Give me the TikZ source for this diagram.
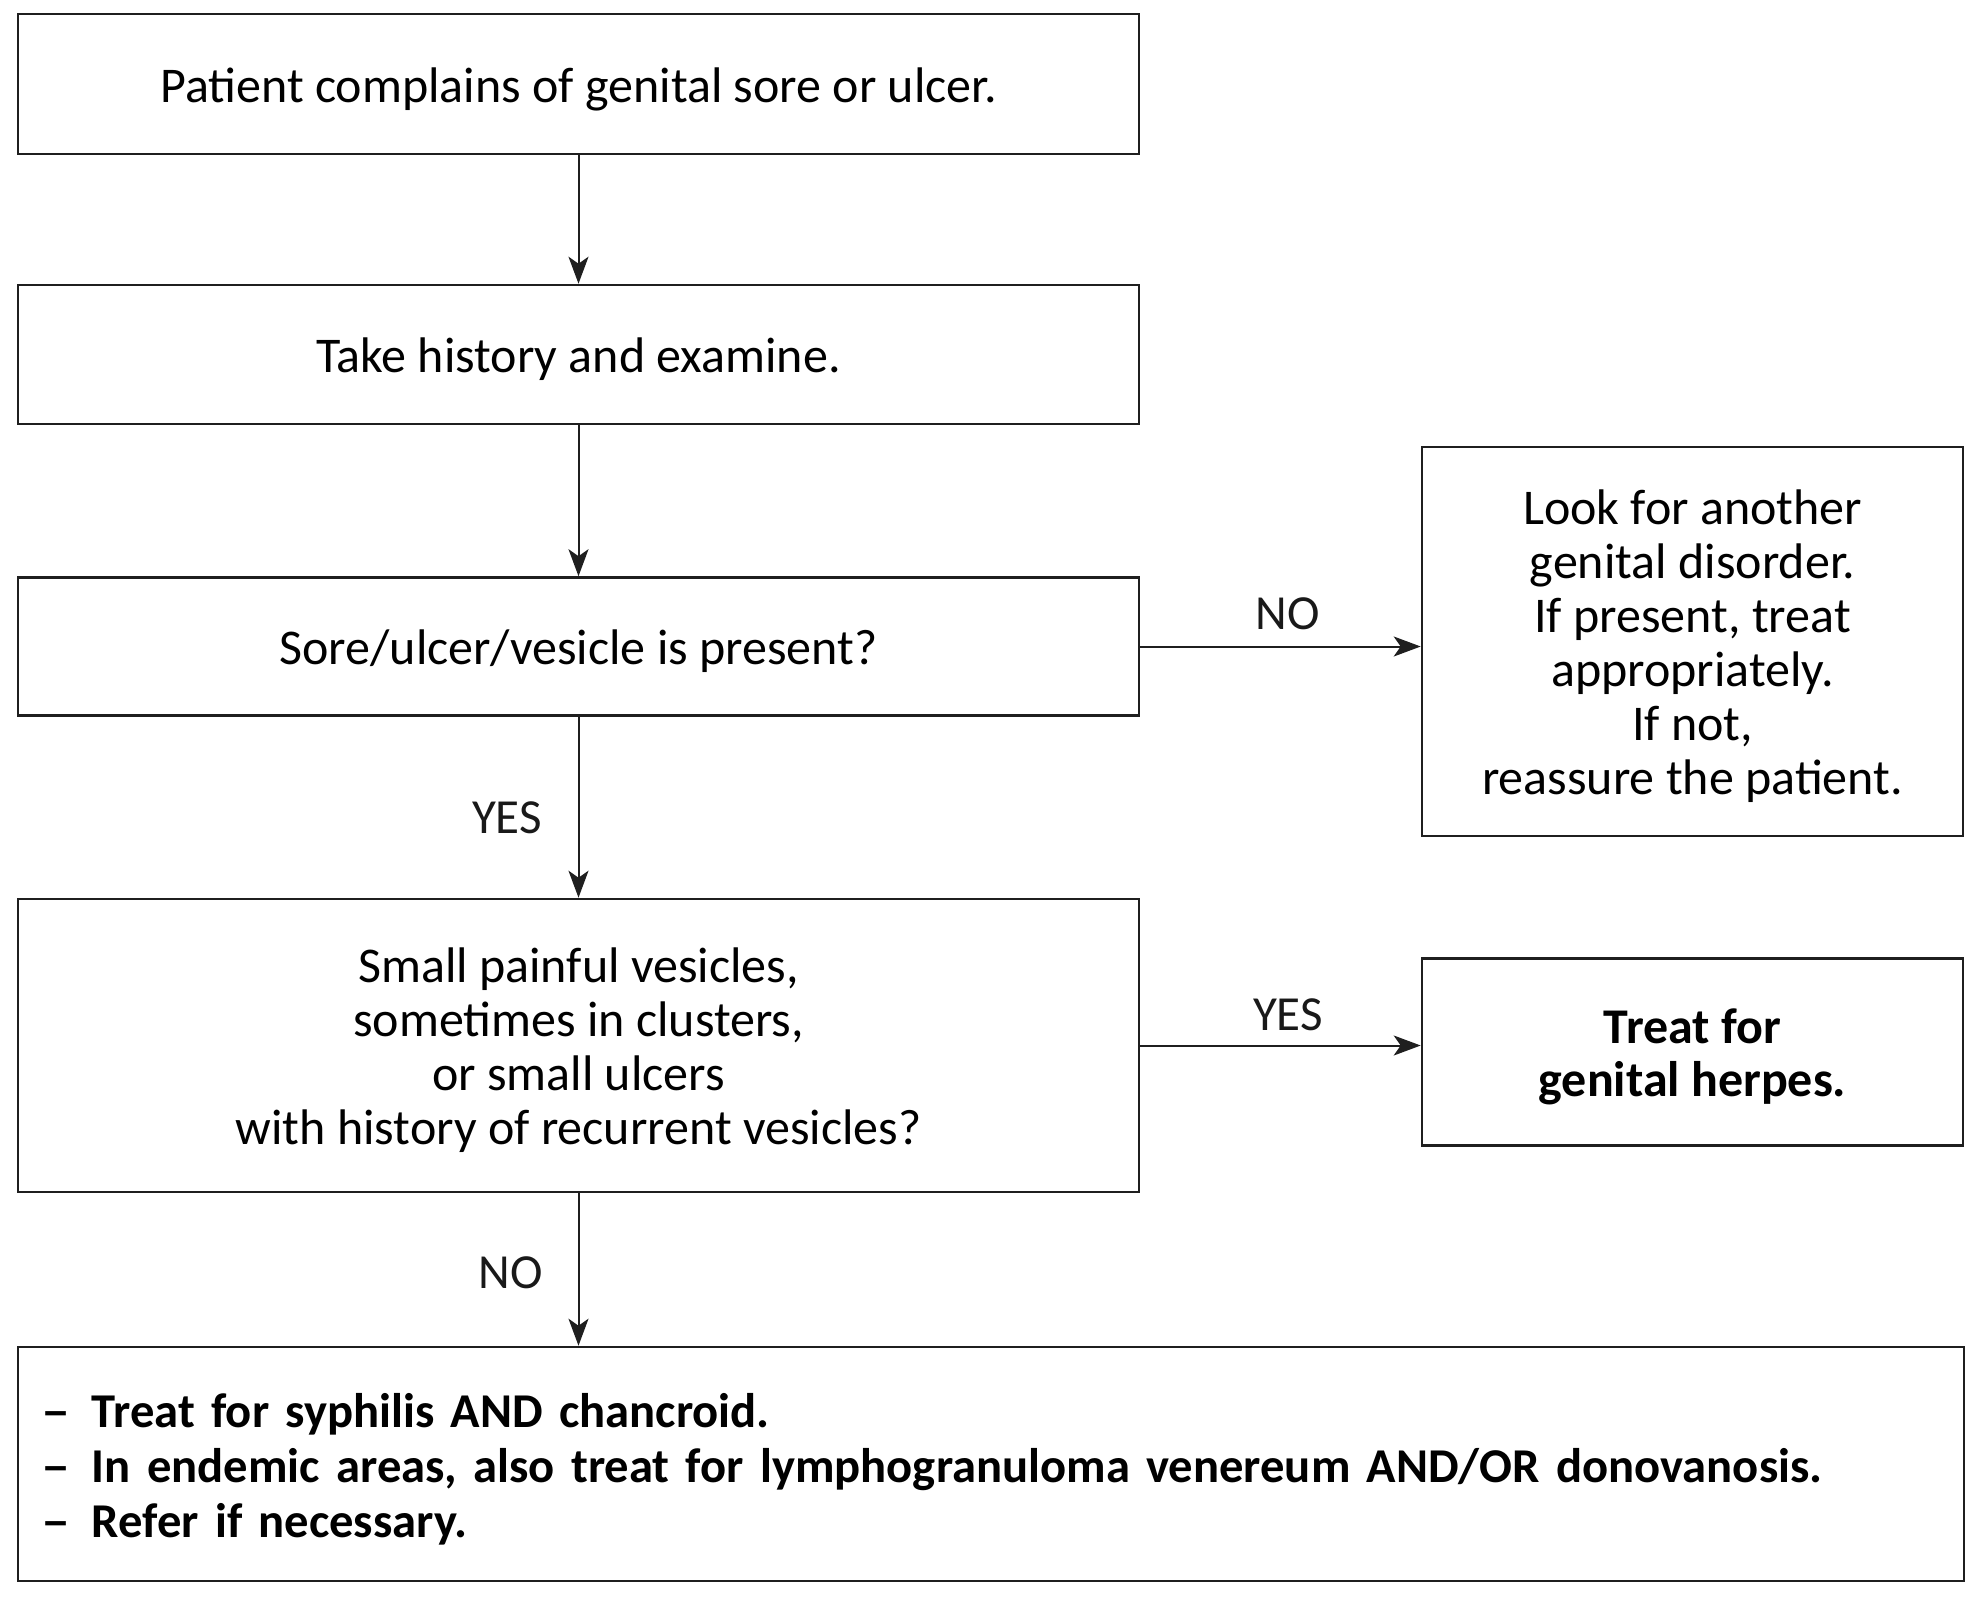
\documentclass[tikz,border=0pt]{standalone}
\usepackage{fontspec}
\setmainfont{Carlito}
\usetikzlibrary{arrows.meta,calc}
\newcommand{\bdash}{\makebox[47pt][l]{\hspace{-4pt}\scalebox{1.2}[1]{–}}}
\tikzset{
  box/.style={draw=black!88, line width=2.6pt, inner sep=0pt, align=center,
    text height=36pt, text depth=0pt,
    font=\fontsize{50}{54}\selectfont},
  conn/.style={draw=black!88, line width=2pt,
    -{Stealth[length=27pt,width=20pt,inset=7pt]}},
  lbl/.style={font=\fontsize{49}{54}\selectfont, text=black!90, inner sep=0pt}
}
\begin{document}
\begin{tikzpicture}[x=1pt,y=-1pt]
\useasboundingbox (0,0) rectangle (1982,1607);
\node[box, minimum width=1121pt, minimum height=140pt] (b1) at (578.5,84) {Patient complains of genital sore or ulcer.};
\node[box, minimum width=1121pt, minimum height=139pt] (b2) at (578.5,354.5) {Take history and examine.};
\node[box, minimum width=1121pt, minimum height=138pt] (b3) at (578.5,646.5) {Sore/ulcer/vesicle is present?};
\node[box, minimum width=541pt, minimum height=389pt, text height=306pt] (r1) at (1692.5,641.5) {Look for another\\genital disorder.\\If present, treat\\appropriately.\\If not,\\reassure the patient.};
\node[box, minimum width=1121pt, minimum height=293pt, text height=198pt] (b4) at (578.5,1045.5) {Small painful vesicles,\\sometimes in clusters,\\or small ulcers\\with history of recurrent vesicles?};
\node[box, minimum width=541pt, minimum height=187pt, text height=89pt, font=\fontsize{50}{53}\selectfont\bfseries] (r2) at (1692.5,1052) {Treat for\\genital herpes.};
\node[box, minimum height=234pt, text height=36pt, text depth=110pt, text width=1946pt-54pt, inner xsep=27pt, align=left, font=\fontsize{48.6}{55}\selectfont\bfseries] (b5) at (991,1464)
 {\bdash Treat for syphilis AND chancroid.\\
  \bdash In endemic areas, also treat for lymphogranuloma venereum AND/OR donovanosis.\\
  \bdash Refer if necessary.};
\draw[conn] (b1.south) -- (b2.north);
\draw[conn] (b2.south) -- (b3.north);
\draw[conn] (b3.south) -- (b4.north);
\draw[conn] (b4.south) -- (b4.south |- b5.north);
\draw[conn] (b3.east) -- (b3.east -| r1.west);
\draw[conn] (b4.east) -- (b4.east -| r2.west);
\node[lbl] (yes1) at (507,817.5) {YES};
\node[lbl] (no1) at (511,1273) {NO};
\node[lbl] (no2) at (1288,614) {NO};
\node[lbl] (yes2) at (1288,1014.5) {YES};
\end{tikzpicture}
\end{document}
